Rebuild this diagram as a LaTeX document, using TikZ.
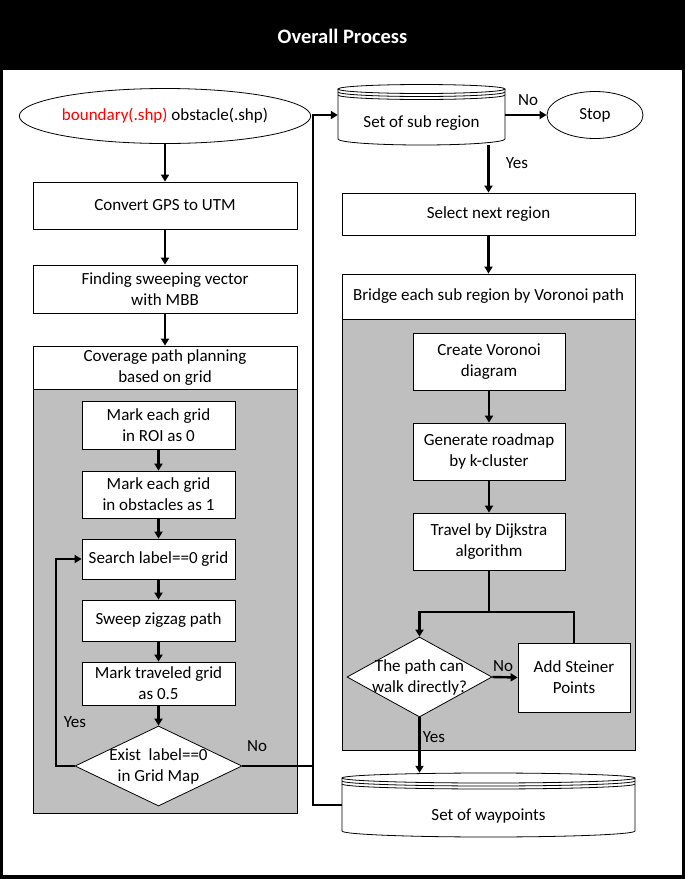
\documentclass[tikz,border=0pt]{standalone}
\usepackage{fontspec}
\setmainfont{Carlito}
\usetikzlibrary{shapes.geometric}
\usetikzlibrary{arrows.meta}
\usetikzlibrary{calc}
\definecolor{panelgray}{RGB}{191,191,191}

\begin{document}
\begin{tikzpicture}[x=1pt, y=-1pt,
  every node/.style={font=\fontsize{17}{21}\selectfont},
  box/.style={draw, line width=0.8pt, fill=white, align=center, inner sep=0pt},
  oval/.style={ellipse, draw, line width=0.8pt, fill=white, inner sep=0pt},
  dia/.style={diamond, draw, line width=0.8pt, fill=white, inner sep=0pt},
  arr/.style={line width=2.4pt, -{Triangle[length=7pt,width=8pt]}},
  link/.style={line width=2.4pt},
  thin/.style={line width=0.8pt}]
            \useasboundingbox (0,0) rectangle (685,879);
            % Frame and title bar
            \fill (0,0) rectangle (685,879);
            \fill[white] (3,70) rectangle (682,875);
            \node[font=\fontsize{20.5}{24}\selectfont\bfseries, text=white] (title) at (342.5,36) {Overall Process};
            % Left column
            \node[oval, minimum width=264pt, minimum height=55pt] (input) at (165,116)
                 {{\color{red}boundary(.shp)} obstacle(.shp)};
            \node[box, minimum width=264pt, minimum height=47pt] (gps) at (165,205.5) {Convert GPS to UTM};
            \node[box, minimum width=264pt, minimum height=48pt] (mbb) at (165,289) {Finding sweeping vector\\with MBB};
            \draw[thin, fill=panelgray]                                       (33,346) rectangle (297,813);
            \node[box, minimum width=264pt, minimum height=43pt] (cpp) at (165,367.5) {Coverage path planning\\based on grid};
            \node[box, minimum width=153pt, minimum height=48pt] (roi) at (158.5,425) {Mark each grid\\in ROI as 0};
            \node[box, minimum width=153pt, minimum height=47pt] (obs) at (158.5,494.5) {Mark each grid\\in obstacles as 1};
            \node[box, minimum width=153pt, minimum height=40pt] (search) at (158.5,559) {Search label==0 grid};
            \node[box, minimum width=153pt, minimum height=41pt] (zigzag) at (158.5,620.5) {Sweep zigzag path};
            \node[box, minimum width=153pt, minimum height=43pt] (traveled) at (158.5,683.5) {Mark traveled grid\\as 0.5};
            \node[dia, minimum width=167pt, minimum height=80pt] (exist) at (158.5,766) {};
            \node[align=center] (existtxt) at (exist) {Exist~ label==0\\in Grid Map};
            % Right column
            \node[minimum width=167pt, minimum height=60pt, inner sep=0pt] (sub) at (421.5,115) {};
            \draw[thin, fill=white] (338,89) -- (338,139) arc[start angle=180, end angle=0, x radius=83.5, y radius=6] -- (505,89);
            \draw[thin]             (421.5,89) ellipse[x radius=83.5, y radius=4.5];
            \draw[thin]             (338,92) arc[start angle=180, end angle=0, x radius=83.5, y radius=4.5];
            \draw[thin]             (338,95) arc[start angle=180, end angle=0, x radius=83.5, y radius=4.5];
            \node (subtxt) at ([yshift=-8pt]sub.center) {Set of sub region};
            \node[oval, minimum width=96pt, minimum height=47pt] (stop) at (595,115) {Stop};
            \node[box, minimum width=293pt, minimum height=42pt] (select) at (488.5,214) {Select next region};
            \draw[thin, fill=panelgray]                                       (342,274) rectangle (635,750);
            \node[box, minimum width=293pt, minimum height=45pt] (bridge) at (488.5,296.5) {Bridge each sub region by Voronoi path};
            \node[box, minimum width=152pt, minimum height=57pt] (voronoi) at (489,361.5) {Create Voronoi\\diagram};
            \node[box, minimum width=152pt, minimum height=57pt] (roadmap) at (489,451.5) {Generate roadmap\\by k-cluster};
            \node[box, minimum width=152pt, minimum height=57pt] (dijkstra) at (489,541.5) {Travel by Dijkstra\\algorithm};
            \node[dia, minimum width=145pt, minimum height=80pt] (direct) at (419.5,677) {};
            \node[align=center] (directtxt) at (direct) {The path can\\walk directly?};
            \node[box, minimum width=112pt, minimum height=69pt] (steiner) at (574,677.5) {Add Steiner\\Points};
            \coordinate (split) at (489,612);
            \node[minimum width=293pt, minimum height=64pt, inner sep=0pt] (waypts) at (488.5,805) {};
            \draw[thin, fill=white] (342,778) -- (342,831) arc[start angle=180, end angle=0, x radius=146.5, y radius=6] -- (635,778);
            \draw[thin]             (488.5,778) ellipse[x radius=146.5, y radius=5];
            \draw[thin]             (342,781) arc[start angle=180, end angle=0, x radius=146.5, y radius=5];
            \draw[thin]             (342,784) arc[start angle=180, end angle=0, x radius=146.5, y radius=5];
            \node (waypttxt) at ([yshift=-11pt]waypts.center) {Set of waypoints};
            % Connectors, left column
            \draw[arr] (input) -- (gps);
            \draw[arr] (gps) -- (mbb);
            \draw[arr] (mbb) -- (cpp);
            \draw[arr] (roi) -- (obs);
            \draw[arr] (obs) -- (search);
            \draw[arr] (search) -- (zigzag);
            \draw[arr] (zigzag) -- (traveled);
            \draw[arr] (traveled) -- (exist);
            \coordinate (loop) at (56,766);
            \draw[arr] (exist.west) -- (loop) |- (search.west);
            \node (yesA) at (75,722) {Yes};
            \coordinate (bus) at (313,805);
            \draw[link] (exist.east) -- (exist.east -| bus);
            \node (noA) at (257,746) {No};
            \draw[arr] (waypts.west) -- (bus) |- (sub.west);
            % Connectors, right column
            \draw[arr] (sub.east) -- (stop.west);
            \node (noB) at (528,100) {No};
            \draw[arr] (sub.south -| select.north) -- (select.north);
            \node (yesB) at (517,163) {Yes};
            \draw[arr] (select) -- (bridge);
            \draw[arr] (voronoi) -- (roadmap);
            \draw[arr] (roadmap) -- (dijkstra);
            \draw[link] (dijkstra.south) -- (split);
            \draw[arr] (steiner.north) |- (split) -| (direct.north);
            \draw[arr] (direct.east) -- (steiner.west);
            \node (noC) at (503,666) {No};
            \draw[arr] (direct.south) -- (direct.south |- waypts.north);
            \node (yesC) at (434,737) {Yes};
        \end{tikzpicture}
\end{document}
